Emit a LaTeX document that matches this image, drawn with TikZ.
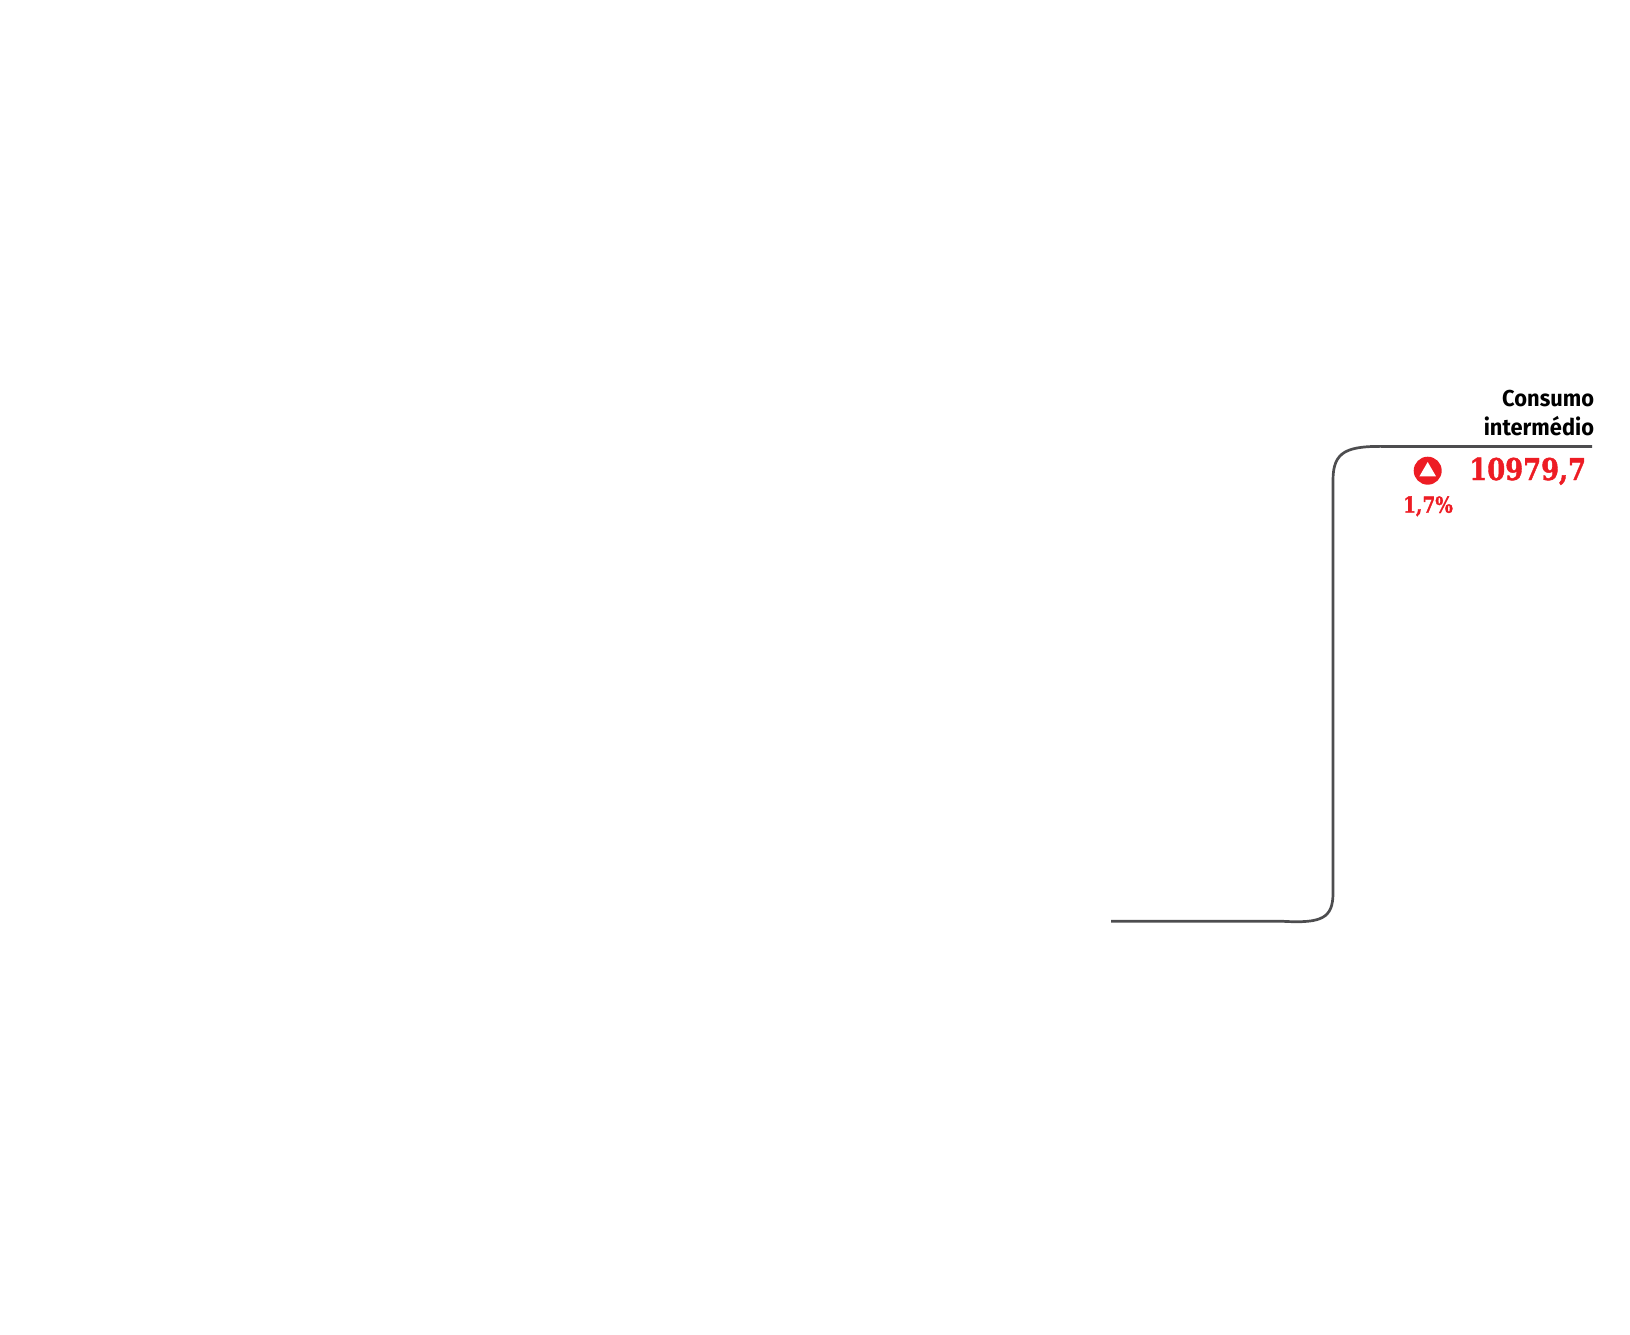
\documentclass[tikz,border=0pt]{standalone}
\usepackage{fontspec}
\setmainfont{Fira Sans}
\newfontfamily\slabfont{DejaVu Serif}[BoldFeatures={FakeBold=1.6}]
\usetikzlibrary{positioning}
\usetikzlibrary{shapes.geometric}
\definecolor{lineGray}{HTML}{4D4D4F}
\definecolor{upRed}{HTML}{ED1C24}
\begin{document}
\begin{tikzpicture}[x=1pt,y=-1pt,semithick]
		\tikzstyle{every node}=[inner sep=0pt,outer sep=0pt]
		\tikzstyle{caption}=[anchor=base east,font=\fontsize{23}{23}\selectfont\bfseries,xscale=0.95,transform shape]
		\tikzstyle{total}=[anchor=base east,text=upRed,font=\fontsize{30}{30}\selectfont\slabfont\bfseries,xscale=0.86,transform shape]
		\tikzstyle{change}=[anchor=base,text=upRed,font=\fontsize{22}{22}\selectfont\slabfont\bfseries,xscale=0.84,transform shape]
		\tikzstyle{link}=[draw=lineGray,line width=2.7pt]
		
		\useasboundingbox (0,0) rectangle (1630,1335);
		
		\coordinate (Start) at (1111,921.3);
		\coordinate (End)   at (1592,446.5);
		
		\node[caption] (Consumo)    at (1594,406)  {Consumo};
		\node[caption] (Intermedio) at (1594,435)  {intermédio};
		\node[total]   (Value)      at (1586,480)  {10979,7};
		\node[circle,fill=upRed,minimum size=28pt] (Badge) at (1427.7,470.7) {};
		\node[regular polygon,regular polygon sides=3,fill=white,minimum size=19pt] (Arrow) at (1427.7,471.5) {};
		\node[change]  (Percent)    at (1428,512.7) {1,7\%};
		
		\path[link] (Start) -- (1283,921.3)
		.. controls (1322,923.5) and (1333,918) .. (1333,893)
		-- (1333,480)
		.. controls (1333,451) and (1347,445.5) .. (1388,446.5)
		-- (End);
		\end{tikzpicture}
\end{document}
